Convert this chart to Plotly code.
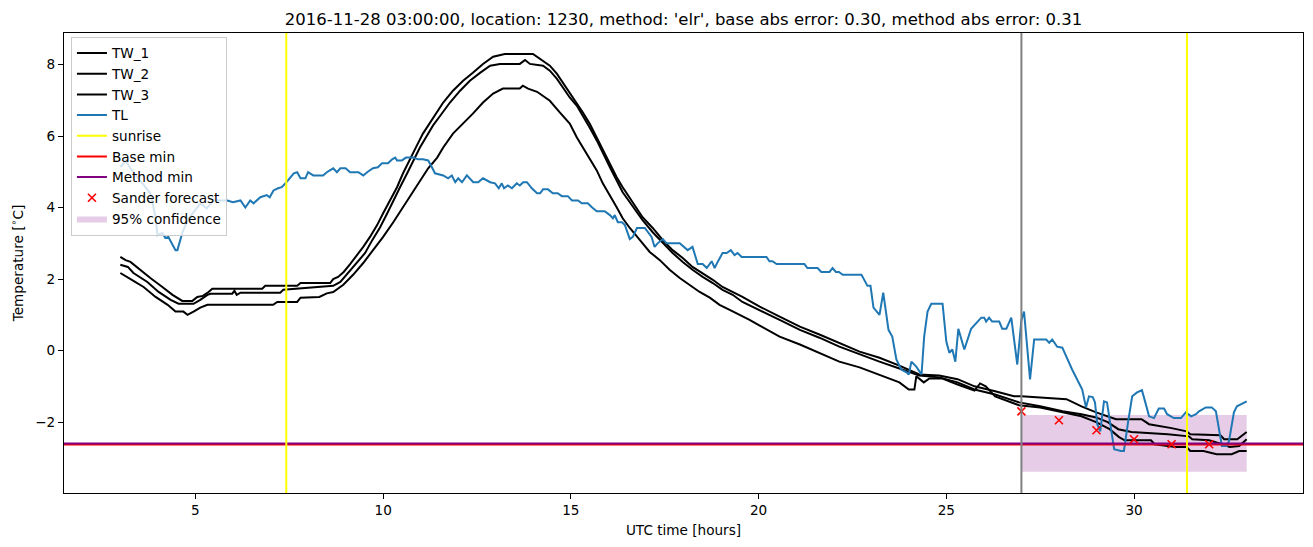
import plotly.graph_objects as go

# ---------------- data ----------------
tw1_h = [3.0, 3.14, 3.27, 3.46, 3.8, 4.12, 4.39, 4.65, 4.92, 5.05, 5.2, 5.35, 5.45, 6.78, 6.86, 7.71, 7.8, 8.59,
         8.67, 8.8, 8.95, 9.12, 9.31, 9.47, 9.65, 9.84, 10.0, 10.19, 10.37, 10.53, 10.72, 10.9, 11.06, 11.25,
         11.44, 11.6, 11.86, 12.13, 12.39, 12.66, 12.93, 13.24, 13.99, 14.18, 14.44, 14.63, 14.79, 14.97, 15.16,
         15.32, 15.5, 15.69, 15.85, 16.04, 16.22, 16.38, 16.57, 16.76, 16.91, 17.18, 17.45, 17.71, 17.98, 18.24,
         18.51, 18.78, 19.04, 19.31, 19.57, 19.84, 20.03, 20.56, 21.1, 21.62, 22.15, 22.69, 23.22, 23.75, 24.28,
         24.81, 25.3, 25.75, 26.3, 26.8, 27.0, 28.2, 28.6, 28.99, 29.52, 30.2, 30.4, 30.8, 31.0, 31.4, 31.5,
         32.3, 32.4, 32.75, 33.0]
tw1_v = [2.62, 2.53, 2.48, 2.31, 2.03, 1.78, 1.56, 1.39, 1.39, 1.5, 1.53, 1.64, 1.73, 1.73, 1.81, 1.81, 1.89, 1.89,
         2.0, 2.06, 2.2, 2.42, 2.67, 2.9, 3.18, 3.51, 3.84, 4.2, 4.57, 4.96, 5.38, 5.74, 6.07, 6.38,
         6.66, 6.94, 7.27, 7.55, 7.77, 8.02, 8.22, 8.3, 8.3, 8.16, 7.97, 7.74, 7.49, 7.21, 6.94,
         6.66, 6.35, 5.96, 5.6, 5.24, 4.85, 4.57, 4.26, 3.98, 3.73, 3.43, 3.09, 2.81, 2.59, 2.34,
         2.17, 1.98, 1.78, 1.64, 1.5, 1.34, 1.23, 0.95, 0.67, 0.45, 0.22, -0.03, -0.2, -0.42, -0.67,
         -0.7, -0.8, -1.0, -1.14, -1.28, -1.28, -1.36, -1.56, -1.73, -1.92, -1.92, -2.06, -2.12, -2.17, -2.26, -2.34,
         -2.37, -2.48, -2.48, -2.28]

tw2_h = [3.0, 3.2, 3.35, 3.72, 4.02, 4.34, 4.55, 4.95, 5.13, 5.32, 5.4, 5.98, 6.04, 6.1, 6.2, 7.26, 7.34, 8.3,
         8.67, 8.86, 9.07, 9.31, 9.52, 9.71, 9.92, 10.11, 10.27, 10.45, 10.64, 10.8, 10.98, 11.17, 11.33, 11.52,
         11.78, 12.05, 12.31, 12.58, 12.85, 13.11, 13.64, 13.78, 13.91, 14.26, 14.44, 14.63, 14.79, 14.97, 15.16,
         15.32, 15.5, 15.69, 15.85, 16.04, 16.22, 16.38, 16.57, 16.76, 16.91, 17.18, 17.45, 17.71, 17.98, 18.24,
         18.51, 18.78, 19.04, 19.31, 19.57, 19.84, 20.03, 20.56, 21.1, 21.62, 22.15, 22.69, 23.22, 23.75, 24.28,
         24.81, 25.3, 25.75, 26.3, 26.94, 27.5, 28.1, 28.6, 28.99, 29.3, 29.58, 29.93, 30.9, 31.46, 31.55, 32.0,
         32.35, 32.55, 32.8, 33.0]
tw2_v = [2.4, 2.34, 2.17, 1.92, 1.64, 1.42, 1.31, 1.31, 1.42, 1.56, 1.59, 1.59, 1.67, 1.56, 1.62, 1.62, 1.7, 1.78,
         1.81, 1.92, 2.17, 2.45, 2.73, 3.09, 3.45, 3.84, 4.2, 4.57, 4.96, 5.32, 5.68, 6.02, 6.3, 6.57,
         6.94, 7.27, 7.55, 7.77, 7.97, 8.02, 8.02, 8.13, 8.02, 7.97, 7.83, 7.6, 7.35, 7.08, 6.85,
         6.57, 6.24, 5.88, 5.52, 5.13, 4.76, 4.43, 4.15, 3.87, 3.65, 3.31, 3.0, 2.73, 2.48, 2.26,
         2.06, 1.89, 1.7, 1.56, 1.36, 1.23, 1.12, 0.86, 0.58, 0.36, 0.11, -0.11, -0.31, -0.5, -0.7,
         -0.75, -0.89, -1.09, -1.23, -1.45, -1.56, -1.7, -1.78, -1.87, -2.0, -2.2, -2.28, -2.34, -2.4, -2.48, -2.51,
         -2.62, -2.7, -2.67, -2.48]

tw3_h = [3.0, 3.14, 3.35, 3.62, 3.94, 4.26, 4.47, 4.68, 4.79, 4.95, 5.13, 5.32, 7.07, 7.18, 7.71, 7.8, 8.3, 8.5,
         8.67, 8.94, 9.2, 9.47, 9.73, 10.0, 10.27, 10.53, 10.77, 10.98, 11.2, 11.44, 11.6, 11.86, 12.13, 12.39,
         12.66, 12.93, 13.19, 13.64, 13.72, 13.86, 14.1, 14.26, 14.44, 14.71, 14.97, 15.16, 15.32, 15.5, 15.69,
         15.85, 16.04, 16.22, 16.38, 16.57, 16.84, 17.1, 17.37, 17.63, 17.9, 18.16, 18.43, 18.7, 18.96, 19.23,
         19.5, 19.76, 20.03, 20.56, 21.1, 21.62, 22.15, 22.69, 23.22, 23.75, 24.0, 24.15, 24.2, 24.4, 24.55,
         24.9, 25.3, 25.75, 25.9, 26.05, 26.3, 26.94, 27.5, 28.1, 28.6, 28.99, 29.35, 29.6, 29.75, 30.45, 30.55,
         31.1, 31.4, 31.5, 31.85, 32.2, 32.6, 32.8, 33.0]
tw3_v = [2.17, 2.09, 1.95, 1.78, 1.5, 1.28, 1.09, 1.09, 1.0, 1.09, 1.2, 1.28, 1.28, 1.36, 1.36, 1.48, 1.5, 1.6,
         1.64, 1.84, 2.12, 2.45, 2.81, 3.18, 3.59, 4.01, 4.4, 4.76, 5.1, 5.4, 5.68, 6.07, 6.35, 6.63,
         6.94, 7.19, 7.33, 7.33, 7.41, 7.33, 7.24, 7.13, 6.99, 6.66, 6.35, 5.96, 5.68, 5.4, 5.04,
         4.68, 4.35, 4.01, 3.7, 3.43, 3.09, 2.76, 2.53, 2.26, 2.03, 1.84, 1.64, 1.48, 1.28, 1.14,
         1.0, 0.86, 0.7, 0.39, 0.17, -0.06, -0.31, -0.47, -0.67, -0.89, -1.09, -1.09, -0.72, -0.89, -0.78,
         -0.78, -0.95, -1.12, -0.92, -1.0, -1.28, -1.53, -1.59, -1.73, -1.84, -2.0, -2.2, -2.42, -2.51, -2.51, -2.62,
         -2.7, -2.7, -2.81, -2.81, -2.9, -2.9, -2.81, -2.81]

tl_h = [3.0, 3.14, 3.27, 3.54, 3.8, 3.94, 3.99, 4.12, 4.2, 4.28, 4.47, 4.52, 4.65, 4.79, 4.95, 5.13, 5.3, 5.48,
        5.85, 6.0, 6.2, 6.33, 6.46, 6.55, 6.73, 6.9, 6.98, 7.08, 7.2, 7.3, 7.4, 7.62, 7.71, 7.8, 7.93, 8.0,
        8.14, 8.4, 8.5, 8.59, 8.67, 8.77, 8.86, 9.0, 9.12, 9.34, 9.47, 9.6, 9.73, 9.86, 9.97, 10.13, 10.24,
        10.32, 10.37, 10.5, 10.61, 10.8, 10.93, 11.06, 11.2, 11.3, 11.38, 11.6, 11.73, 11.83, 11.92, 12.0,
        12.1, 12.23, 12.4, 12.53, 12.66, 12.85, 12.98, 13.08, 13.16, 13.22, 13.32, 13.43, 13.56, 13.64, 13.73,
        13.83, 13.96, 14.1, 14.18, 14.26, 14.39, 14.52, 14.65, 14.76, 14.92, 15.03, 15.19, 15.29, 15.45, 15.56,
        15.69, 15.9, 16.04, 16.12, 16.17, 16.25, 16.36, 16.44, 16.57, 16.65, 16.76, 16.97, 17.05, 17.15, 17.23,
        17.31, 17.45, 17.55, 17.9, 17.98, 18.11, 18.24, 18.3, 18.38, 18.51, 18.62, 18.75, 18.83, 18.91, 19.04,
        19.15, 19.26, 19.36, 19.44, 19.55, 20.21, 20.29, 20.37, 20.48, 21.22, 21.3, 21.57, 21.67, 21.89, 21.97,
        22.06, 22.14, 22.24, 22.74, 22.82, 22.9, 22.98, 23.06, 23.22, 23.32, 23.46, 23.56, 23.67, 23.8, 23.94,
        24.0, 24.07, 24.2, 24.34, 24.41, 24.5, 24.6, 24.9, 25.0, 25.08, 25.16, 25.24, 25.32, 25.48, 25.66,
        25.93, 26.01, 26.06, 26.14, 26.22, 26.41, 26.49, 26.6, 26.73, 26.89, 27.0, 27.07, 27.23, 27.34, 27.66,
        27.74, 27.82, 27.95, 28.09, 28.35, 28.62, 28.72, 28.8, 28.9, 28.96, 29.02, 29.1, 29.2, 29.28, 29.43,
        29.47, 29.65, 29.73, 29.84, 29.95, 30.08, 30.21, 30.3, 30.4, 30.53, 30.66, 30.8, 30.88, 31.06, 31.25,
        31.38, 31.52, 31.65, 31.73, 31.91, 32.07, 32.18, 32.26, 32.34, 32.47, 32.53, 32.66, 32.74, 33.0]
tl_v = [5.13, 5.32, 5.1, 4.76, 4.4, 3.73, 3.23, 3.29, 3.15, 3.18, 2.81, 2.81, 3.29, 3.65, 3.87, 4.12, 3.98, 4.2,
        4.2, 4.15, 4.2, 4.0, 4.2, 4.12, 4.29, 4.35, 4.29, 4.48, 4.54, 4.57, 4.68, 4.96, 4.99, 4.82, 4.82, 4.99,
        4.9, 4.9, 4.99, 5.04, 5.1, 4.99, 5.1, 5.1, 4.99, 4.99, 4.9, 5.01, 5.1, 5.13, 5.24, 5.24, 5.35,
        5.4, 5.32, 5.32, 5.4, 5.4, 5.35, 5.35, 5.32, 5.13, 4.96, 4.9, 4.82, 4.9, 4.71, 4.82,
        4.71, 4.9, 4.71, 4.71, 4.82, 4.71, 4.68, 4.54, 4.68, 4.54, 4.62, 4.54, 4.68, 4.62, 4.71,
        4.71, 4.54, 4.4, 4.4, 4.51, 4.51, 4.4, 4.4, 4.32, 4.32, 4.2, 4.2, 4.12, 4.12, 4.01,
        3.9, 3.9, 3.79, 3.7, 3.79, 3.59, 3.59, 3.51, 3.12, 3.18, 3.43, 3.43, 3.31, 3.18, 2.9,
        3.0, 3.12, 3.0, 3.0, 2.92, 2.81, 2.9, 2.67, 2.42, 2.42, 2.31, 2.5, 2.31, 2.48, 2.73,
        2.73, 2.81, 2.67, 2.73, 2.62, 2.62, 2.5, 2.5, 2.42, 2.42, 2.31, 2.31, 2.2, 2.2, 2.31,
        2.2, 2.2, 2.12, 2.12, 1.98, 1.81, 1.81, 1.2, 1.0, 1.62, 0.58, 0.39, -0.25, -0.53, -0.61,
        -0.67, -0.31, -0.45, -0.67, 0.39, 1.09, 1.31, 1.31, 0.25, -0.06, 0.03, -0.31, 0.61, 0.03, 0.61,
        0.92, 0.92, 0.81, 0.92, 0.81, 0.81, 0.61, 0.61, 0.92, -0.39, 0.86, 1.09, -0.81, 0.31, 0.31,
        0.22, 0.31, 0.11, 0.08, -0.53, -1.09, -1.59, -1.28, -1.3, -1.45, -2.06, -2.26, -1.42, -1.45, -2.56,
        -2.76, -2.81, -2.81, -2.01, -1.28, -1.17, -1.11, -1.45, -1.84, -1.89, -1.62, -1.62, -1.78, -1.89, -1.89,
        -1.73, -1.84, -1.78, -1.7, -1.59, -1.59, -1.7, -2.2, -2.67, -2.67, -2.53, -1.73, -1.56, -1.42]

sunrise_h = [7.42, 31.41]
forecast_start_h = 27.0
base_min = -2.625
method_min = -2.6

sander_h = [27, 28, 29, 30, 31, 32]
sander_v = [-1.70, -1.95, -2.23, -2.48, -2.62, -2.62]

conf_h = [27.0, 33.0]
conf_low = [-3.39, -3.39]
conf_high = [-1.80, -1.80]

x_range = [1.5, 34.5]
y_range = [-3.985, 8.885]

title = "2016-11-28 03:00:00, location: 1230, method: 'elr', base abs error: 0.30, method abs error: 0.31"

# ---------------- figure ----------------
FONT = "DejaVu Sans"
FS = 13.6
LW = 2
fig = go.Figure()

# confidence band (drawn first, listed last in legend)
fig.add_trace(go.Scatter(x=conf_h, y=conf_low, mode="lines", line=dict(width=0),
                         showlegend=False, hoverinfo="skip"))
fig.add_trace(go.Scatter(x=conf_h, y=conf_high, mode="lines", line=dict(width=0),
                         fill="tonexty", fillcolor="rgba(128,0,128,0.2)",
                         name="95% confidence", legendrank=9))

for nm, hh, vv, rk in [("TW_1", tw1_h, tw1_v, 1), ("TW_2", tw2_h, tw2_v, 2), ("TW_3", tw3_h, tw3_v, 3)]:
    fig.add_trace(go.Scatter(x=hh, y=vv, mode="lines", name=nm,
                             line=dict(color="black", width=LW), legendrank=rk))

fig.add_trace(go.Scatter(x=tl_h, y=tl_v, mode="lines", name="TL",
                         line=dict(color="#1f77b4", width=LW), legendrank=4))

# legend proxy for the sunrise lines (drawn as shapes)
fig.add_trace(go.Scatter(x=[None], y=[None], mode="lines", name="sunrise",
                         line=dict(color="#ffff00", width=LW), legendrank=5))

# horizontal min lines spanning the whole axis
fig.add_trace(go.Scatter(x=x_range, y=[base_min, base_min], mode="lines", name="Base min",
                         line=dict(color="#ff0000", width=LW), legendrank=6, cliponaxis=True))
fig.add_trace(go.Scatter(x=x_range, y=[method_min, method_min], mode="lines", name="Method min",
                         line=dict(color="#800080", width=LW), legendrank=7, cliponaxis=True))

fig.add_trace(go.Scatter(x=sander_h, y=sander_v, mode="markers", name="Sander forecast",
                         marker=dict(symbol="x-thin", size=8, line=dict(color="#ff0000", width=1.6)),
                         legendrank=8))

# full-height vertical lines
for s in sunrise_h:
    fig.add_shape(type="line", xref="x", yref="y domain", x0=s, x1=s, y0=0, y1=1,
                  line=dict(color="#ffff00", width=LW))
fig.add_shape(type="line", xref="x", yref="y domain", x0=forecast_start_h, x1=forecast_start_h,
              y0=0, y1=1, line=dict(color="#808080", width=LW))

axis_common = dict(showline=True, linecolor="black", linewidth=1, mirror=True,
                   ticks="outside", ticklen=5, tickcolor="black", tickwidth=1,
                   showgrid=False, zeroline=False, automargin=False,
                   tickfont=dict(family=FONT, size=FS, color="black"))

# the page adds an 8px body margin, so the figure is 8px smaller and margins shifted
fig.update_layout(
    width=1305, height=539,
    margin=dict(l=56, r=10, t=25, b=54),
    paper_bgcolor="white", plot_bgcolor="white",
    font=dict(family=FONT, size=FS, color="black"),
    title=dict(text=title, x=0.5, xref="paper", xanchor="center",
               y=1, yref="container", yanchor="top", pad=dict(t=5), automargin=False,
               font=dict(family=FONT, size=16.5, color="black")),
    xaxis=dict(range=x_range, tickvals=[5, 10, 15, 20, 25, 30],
               title=dict(text="UTC time [hours]", standoff=8,
                          font=dict(family=FONT, size=FS, color="black")),
               **axis_common),
    yaxis=dict(range=y_range, tickvals=[-2, 0, 2, 4, 6, 8],
               title=dict(text="Temperature [<sup>∘</sup>C]", standoff=16,
                          font=dict(family=FONT, size=FS, color="black")),
               **axis_common),
    legend=dict(x=0.0056, y=0.992, xanchor="left", yanchor="top",
                bgcolor="rgba(255,255,255,0.8)", bordercolor="#cccccc", borderwidth=1,
                font=dict(family=FONT, size=FS, color="black"),
                traceorder="normal", itemwidth=30),
    showlegend=True,
)

fig.write_html("out.html")
